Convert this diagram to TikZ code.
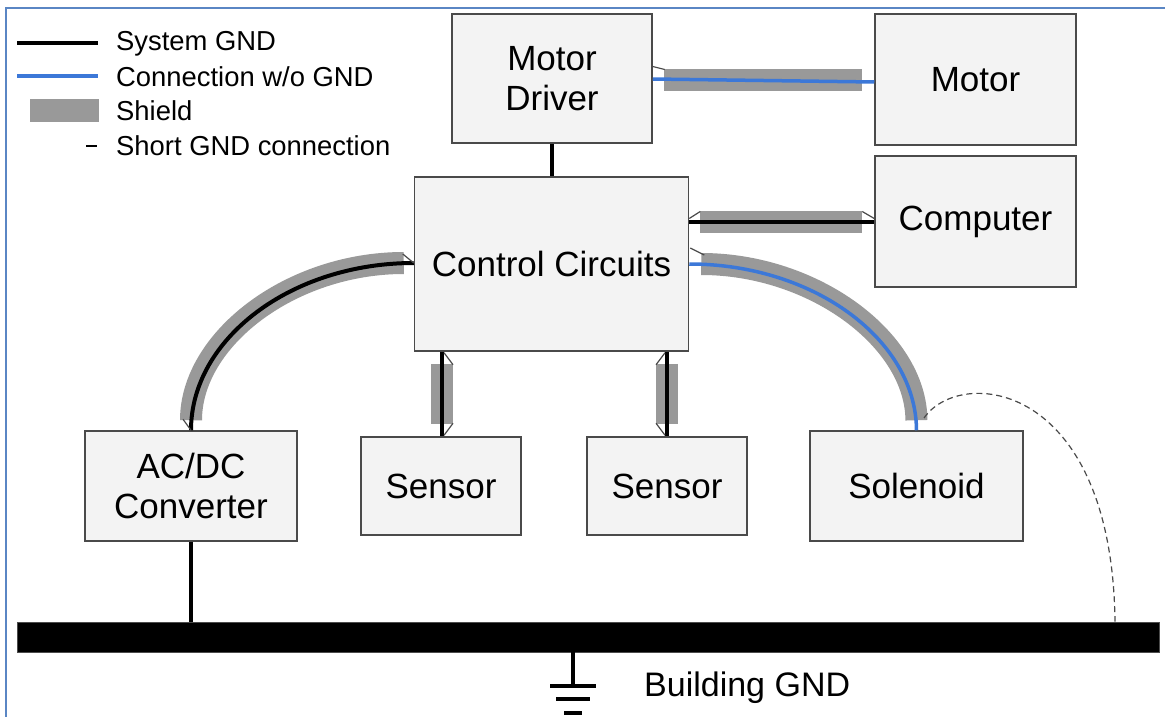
\documentclass[tikz,border=0pt]{standalone}
\usepackage{fontspec}
\setmainfont{Liberation Sans}
\usetikzlibrary{calc}
\definecolor{boxfill}{HTML}{F3F3F3}
\definecolor{boxline}{HTML}{4A4A4A}
\definecolor{cblue}{HTML}{3C78D8}
\definecolor{shieldgray}{HTML}{999999}
\definecolor{frameblue}{HTML}{5A86C4}
\tikzset{
  blk/.style={draw=boxline, fill=boxfill, line width=1.5pt, align=center,
    font=\fontsize{35}{40}\selectfont, inner sep=2pt},
  sysgnd/.style={line width=4pt, black},
  noground/.style={line width=3.5pt, cblue},
  shieldline/.style={line width=22pt, shieldgray},
  tick/.style={line width=1.2pt, boxline},
  legtext/.style={anchor=west, font=\fontsize{27.4}{30}\selectfont, inner sep=0pt},
}
\begin{document}
\begin{tikzpicture}[x=1pt,y=-1pt]
\useasboundingbox (0,0) rectangle (1165,717);
\fill[white] (0,0) rectangle (1165,717);
% frame
\draw[frameblue, line width=2pt] (6,717) -- (6,8) -- (1165,8);

% legend
\coordinate (l1a) at (17,43); \coordinate (l1b) at (98,43);
\coordinate (l2a) at (17,76); \coordinate (l2b) at (98,76);
\draw[sysgnd] (l1a) -- (l1b);
\draw[noground] (l2a) -- (l2b);
\fill[shieldgray] (30,99) rectangle (99,122);
\node[legtext] (t1) at (116,44) {System GND};
\node[legtext] (t2) at (116,77) {Connection w/o GND};
\node[legtext] (t3) at (116,111) {Shield};
\node[legtext] (t4) at (116,146) {Short GND connection};
\draw[line width=1.3pt, black] (86,146) -- (97,146);

% boxes
\node[blk, minimum width=200pt, minimum height=129pt] (driver) at (552,78.5) {\raisebox{-3pt}{Motor}\\\raisebox{-3pt}{Driver}};
\node[blk, minimum width=201pt, minimum height=131pt] (motor) at (975.5,79.5) {Motor};
\node[blk, minimum width=201pt, minimum height=131pt] (comp) at (975.5,221.5) {Computer};
\node[blk, minimum width=274pt, minimum height=174pt] (ctrl) at (551.5,264) {\raisebox{-1pt}{Control Circuits}};
\node[blk, minimum width=212pt, minimum height=110pt] (acdc) at (191,486) {\raisebox{-2pt}{AC/DC}\\\raisebox{-2pt}{Converter}};
\node[blk, minimum width=160pt, minimum height=98pt] (sens1) at (441,486) {\raisebox{-1pt}{Sensor}};
\node[blk, minimum width=160pt, minimum height=98pt] (sens2) at (667,486) {\raisebox{-1pt}{Sensor}};
\node[blk, minimum width=213pt, minimum height=110pt] (sol) at (916.5,486) {\raisebox{-1pt}{Solenoid}};

% ground bar
\node[fill=black, draw=black!70, line width=0.8pt, minimum width=1142pt, minimum height=30pt, inner sep=0pt] (bar) at (588,637) {};

% driver - control
\draw[sysgnd] (driver.south) -- (driver.south |- ctrl.north);

% driver - motor
\coordinate (dm1) at ($(driver.east)+(0,0.5)$);
\coordinate (dm2) at ($(motor.west)+(0,2.5)$);
\draw[shieldline, shorten <=11pt, shorten >=12pt] ($(driver.east)+(0,2)$) -- ($(motor.west)+(0,1)$);
\draw[noground] (dm1) -- (dm2);
\draw[tick] ($(driver.east)+(0,-12)$) -- ($(driver.east)+(12,-9)$);

% control - computer
\coordinate (cc1) at (ctrl.east |- comp.west);
\draw[shieldline, shorten <=11pt, shorten >=12pt] (cc1) -- (comp.west);
\draw[sysgnd] (cc1) -- (comp.west);
\draw[tick] ($(cc1)+(0,-3)$) -- ($(cc1)+(11,-10)$);
\draw[tick] ($(comp.west)+(0,-3)$) -- ($(comp.west)+(-12,-10)$);

% control - AC/DC (arc)
\coordinate (la) at ($(ctrl.west)+(0,-1)$);
\draw[shieldline, shorten <=10pt, shorten >=10pt] (la) .. controls (291,263) and (191,339) .. (acdc.north);
\draw[sysgnd] (la) .. controls (291,263) and (191,339) .. (acdc.north);
\draw[tick] (la) -- ($(la)+(-11,-9)$);
\draw[tick] (acdc.north) -- ($(acdc.north)+(-8,-11)$);

% control - solenoid (arc)
\coordinate (ra) at (ctrl.east);
\draw[shieldline, shorten <=12pt, shorten >=10pt] (ra) .. controls (814,264) and (916,340) .. (sol.north);
\draw[noground] (ra) .. controls (814,264) and (916,340) .. (sol.north);
\draw[tick] ($(ra)+(1,-16)$) -- ($(ra)+(15,-9)$);

% sensors
\coordinate (s1t) at (ctrl.south -| 442,0);
\coordinate (s1b) at (sens1.north -| 442,0);
\draw[shieldline, shorten <=12pt, shorten >=12pt] (s1t) -- (s1b);
\draw[sysgnd] (s1t) -- (s1b);
\draw[tick] ($(s1t)+(2,1)$) -- ($(s1t)+(11,13)$);
\draw[tick] ($(s1b)+(2,-1)$) -- ($(s1b)+(11,-13)$);
\coordinate (s2t) at (ctrl.south -| 667,0);
\coordinate (s2b) at (sens2.north -| 667,0);
\draw[shieldline, shorten <=12pt, shorten >=12pt] (s2t) -- (s2b);
\draw[sysgnd] (s2t) -- (s2b);
\draw[tick] ($(s2t)+(-2,1)$) -- ($(s2t)+(-11,13)$);
\draw[tick] ($(s2b)+(-2,-1)$) -- ($(s2b)+(-11,-13)$);

% AC/DC to bar
\draw[sysgnd] (acdc.south) -- (acdc.south |- bar.north);

% short GND dashed from solenoid shield to bar
\coordinate (shend) at (924,418);
\coordinate (barpt) at (bar.north -| 1115,0);
\draw[dashed, line width=1.2pt, boxline, dash pattern=on 6pt off 4pt] (shend) .. controls (960,366) and (1112,380) .. (barpt);

% earth symbol
\coordinate (earthtop) at (bar.south -| 573,0);
\coordinate (earth) at (573,686);
\draw[line width=4pt] (earthtop) -- (earth);
\draw[line width=4pt] ($(earth)+(-23,0)$) -- ($(earth)+(23,0)$);
\draw[line width=4pt] ($(earth)+(-17,13)$) -- ($(earth)+(17,13)$);
\draw[line width=4pt] ($(earth)+(-9,27)$) -- ($(earth)+(9,27)$);
\node[anchor=west, font=\fontsize{34}{40}\selectfont, inner sep=0pt] (bgnd) at (644,688) {Building GND};
\end{tikzpicture}
\end{document}
